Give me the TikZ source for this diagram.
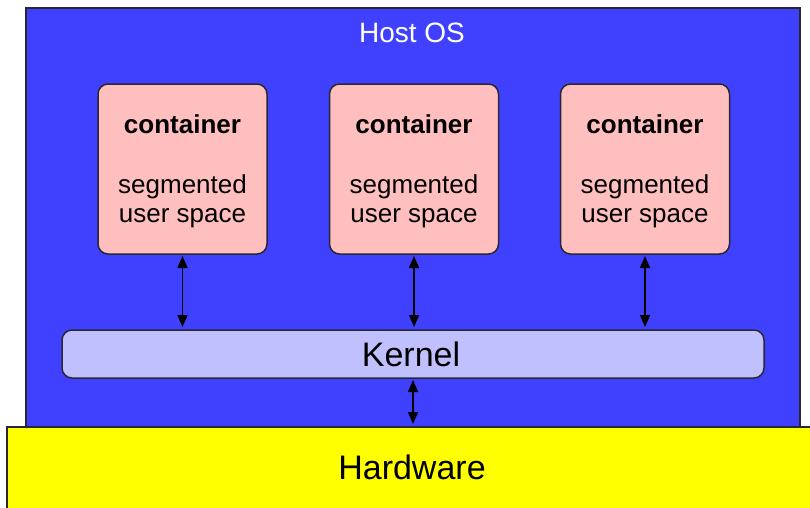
\documentclass[tikz,border=0pt]{standalone}
\usepackage{fontspec}
\setmainfont{Liberation Sans}
\usetikzlibrary{arrows.meta}
\definecolor{hostblue}{RGB}{64,64,255}
\definecolor{ctpink}{RGB}{255,191,191}
\definecolor{kernlav}{RGB}{192,192,255}
\definecolor{hwyellow}{RGB}{255,255,0}
\definecolor{edgegray}{RGB}{40,40,50}
\tikzset{
  layer/.style={draw=edgegray, line width=1.5pt, inner sep=0pt, outer sep=0pt},
  ctbox/.style={layer, fill=ctpink, rounded corners=10pt, minimum width=169pt, minimum height=170pt},
  kbox/.style={layer, fill=kernlav, rounded corners=10pt, minimum width=702pt, minimum height=48pt},
  cttext/.style={font=\fontsize{26}{29}\selectfont, align=center, inner sep=0pt},
  bigtext/.style={font=\fontsize{34}{38}\selectfont, inner sep=0pt},
  link/.style={line width=1.6pt, {Triangle[length=12pt,width=10pt]}-{Triangle[length=12pt,width=10pt]}, shorten <=2pt, shorten >=3pt}
}
\begin{document}
\begin{tikzpicture}[x=1pt,y=-1pt]
\useasboundingbox (0,0) rectangle (810,507);
\clip (0,0) rectangle (810,507);
% host operating system
\node[layer, fill=hostblue, minimum width=774pt, minimum height=420pt] (host) at (413,218) {};
\node[font=\fontsize{28}{32}\selectfont, text=white, inner sep=0pt] (hostlabel) at (412,33) {Host OS};
% hardware layer
\node[layer, fill=hwyellow, minimum width=808pt, minimum height=90pt] (hw) at (411,472) {};
\node[bigtext] (hwlabel) at (412,467) {Hardware};
% kernel
\node[kbox] (kernel) at (413,354) {};
\node[bigtext] (kernlabel) at (411,354) {Kernel};
% containers
\foreach \i/\x in {1/182.5, 2/414, 3/645} {
  \node[ctbox] (c\i) at (\x,169) {};
  \node[cttext, font=\fontsize{26}{29}\selectfont\bfseries] (c\i t) at (\x,124.5) {container};
  \node[cttext] (c\i s) at (\x,201.5) {segmented\\user space};
  \draw[link] (c\i.south) -- (c\i.south |- kernel.north);
}
% kernel to hardware
\draw[link] (kernel.south) -- (kernel.south |- hw.north);
\end{tikzpicture}
\end{document}
